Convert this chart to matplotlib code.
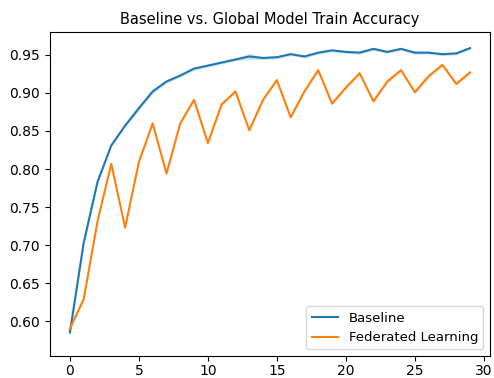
import numpy as np
import matplotlib.pyplot as plt

epochs = list(range(30))

# mean train accuracy per round
baseline = [0.585, 0.703, 0.783, 0.831, 0.857, 0.880, 0.902, 0.915, 0.923, 0.932,
            0.936, 0.940, 0.944, 0.948, 0.946, 0.947, 0.951, 0.948, 0.953, 0.956,
            0.954, 0.953, 0.958, 0.954, 0.958, 0.953, 0.953, 0.951, 0.952, 0.959]
federated = [0.590, 0.629, 0.731, 0.807, 0.723, 0.809, 0.860, 0.794, 0.860, 0.891,
             0.834, 0.885, 0.902, 0.851, 0.891, 0.917, 0.868, 0.902, 0.930, 0.886,
             0.907, 0.926, 0.889, 0.915, 0.930, 0.901, 0.922, 0.937, 0.912, 0.927]

# half-width of the confidence band
baseline_ci = [0.006, 0.004, 0.003, 0.002, 0.002, 0.003, 0.003, 0.002, 0.002, 0.002,
               0.002, 0.002, 0.002, 0.004, 0.002, 0.002, 0.002, 0.002, 0.002, 0.002,
               0.002, 0.002, 0.002, 0.002, 0.002, 0.002, 0.002, 0.002, 0.002, 0.002]
federated_ci = [0.003, 0.002, 0.002, 0.002, 0.002, 0.002, 0.002, 0.002, 0.002, 0.002,
                0.002, 0.002, 0.002, 0.002, 0.002, 0.002, 0.002, 0.002, 0.002, 0.002,
                0.002, 0.002, 0.002, 0.002, 0.002, 0.002, 0.003, 0.002, 0.002, 0.002]

fig = plt.figure(figsize=(4.94, 3.78), dpi=100)
ax = fig.add_axes([0.101, 0.058, 0.891, 0.857])

x = np.array(epochs)
for vals, ci, color, label in [(baseline, baseline_ci, '#1f77b4', 'Baseline'),
                               (federated, federated_ci, '#ff7f0e', 'Federated Learning')]:
    vals = np.array(vals)
    ci = np.array(ci)
    ax.plot(x, vals, color=color, label=label, lw=1.5)
    ax.fill_between(x, vals - ci, vals + ci, color=color, alpha=0.2, lw=0)

ax.set_ylim(0.554, 0.980)
ax.set_xticks([0, 5, 10, 15, 20, 25, 30])
ax.set_yticks([0.60, 0.65, 0.70, 0.75, 0.80, 0.85, 0.90, 0.95])
ax.tick_params(labelsize=10)
ax.tick_params(axis='x', pad=2.5)
ax.set_title('Baseline vs. Global Model Train Accuracy', fontsize=10.5)
ax.legend(loc='lower right', fontsize=9.5)

fig.savefig('out.png', dpi=100)
